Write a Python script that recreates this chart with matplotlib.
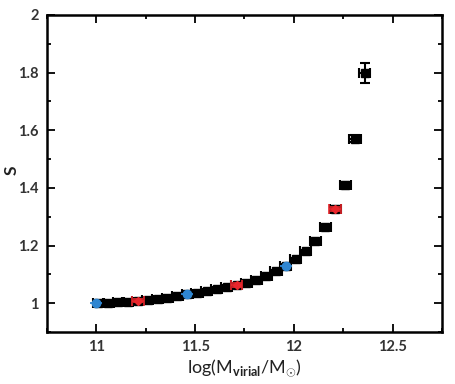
import numpy as np
import matplotlib
matplotlib.use("Agg")
import matplotlib.pyplot as plt
from matplotlib.ticker import MultipleLocator

plt.rcParams['font.family'] = ['Lato', 'DejaVu Sans']
plt.rcParams['mathtext.fontset'] = 'custom'
plt.rcParams['mathtext.rm'] = 'Lato'
plt.rcParams['mathtext.bf'] = 'Lato:bold'

# black points
log_m = [11.01, 11.06, 11.11, 11.16, 11.21, 11.26, 11.31, 11.36, 11.41, 11.46,
         11.51, 11.56, 11.61, 11.66, 11.71, 11.76, 11.81, 11.86, 11.91, 11.96,
         12.01, 12.06, 12.11, 12.16, 12.21, 12.26, 12.31, 12.36]
s_val = [1.000, 1.002, 1.004, 1.006, 1.009, 1.012, 1.016, 1.020, 1.025, 1.031,
         1.037, 1.043, 1.049, 1.055, 1.062, 1.070, 1.080, 1.094, 1.112, 1.131,
         1.153, 1.181, 1.217, 1.265, 1.327, 1.409, 1.571, 1.800]
s_err = [0.002, 0.002, 0.002, 0.002, 0.002, 0.002, 0.002, 0.002, 0.002, 0.002,
         0.002, 0.002, 0.002, 0.002, 0.003, 0.003, 0.003, 0.003, 0.004, 0.004,
         0.004, 0.005, 0.006, 0.007, 0.009, 0.011, 0.013, 0.035]

# coloured overlays
blue_m = [11.0, 11.46, 11.96]
blue_s = [1.001, 1.031, 1.131]
red_m = [11.21, 11.71, 12.21]
red_s = [1.009, 1.063, 1.327]

fig = plt.figure(figsize=(4.56, 3.84), dpi=100)
ax = fig.add_axes([0.103, 0.135, 0.866, 0.826])

ax.errorbar(log_m, s_val, xerr=0.028, yerr=s_err, fmt='s', color='black',
            ms=5.5, elinewidth=1.5, capsize=3.5, capthick=1.5)
ax.errorbar(blue_m, blue_s, xerr=0.03, yerr=0.003, fmt='o', color='#2f86d1',
            ms=6, elinewidth=1.3, capsize=0, zorder=5)
ax.errorbar(red_m, red_s, xerr=0.03, yerr=0.006, fmt='D', color='#e8262c',
            ms=4.5, elinewidth=1.3, capsize=3.5, capthick=1.2, zorder=5)

ax.set_xlim(10.75, 12.75)
ax.set_ylim(0.9, 2.0)
ax.xaxis.set_major_locator(MultipleLocator(0.5))
ax.xaxis.set_minor_locator(MultipleLocator(0.25))
ax.yaxis.set_major_locator(MultipleLocator(0.2))
ax.yaxis.set_minor_locator(MultipleLocator(0.1))
ax.set_xticks([11, 11.5, 12, 12.5])
ax.set_xticklabels(['11', '11.5', '12', '12.5'])
ax.set_yticks([1, 1.2, 1.4, 1.6, 1.8, 2])
ax.set_yticklabels(['1', '1.2', '1.4', '1.6', '1.8', '2'])

ax.tick_params(which='both', direction='in', top=True, right=True,
               labelsize=10.5, labelcolor='#333333', width=1.3)
ax.tick_params(which='major', length=6, pad=6)
ax.tick_params(which='minor', length=3)
for lbl in ax.get_xticklabels() + ax.get_yticklabels():
    lbl.set_fontweight('bold')
for sp in ax.spines.values():
    sp.set_linewidth(1.8)

ax.set_xlabel(r'log(M$_{\mathbf{virial}}$/M$_{\odot}$)', fontsize=13,
              color='#222222', labelpad=2)
fig.text(12 / 456, 1 - 170 / 384, 'S', rotation=90, ha='center', va='center',
         fontsize=12.5, color='#222222', fontweight='bold')

fig.savefig('out.png', dpi=100)
